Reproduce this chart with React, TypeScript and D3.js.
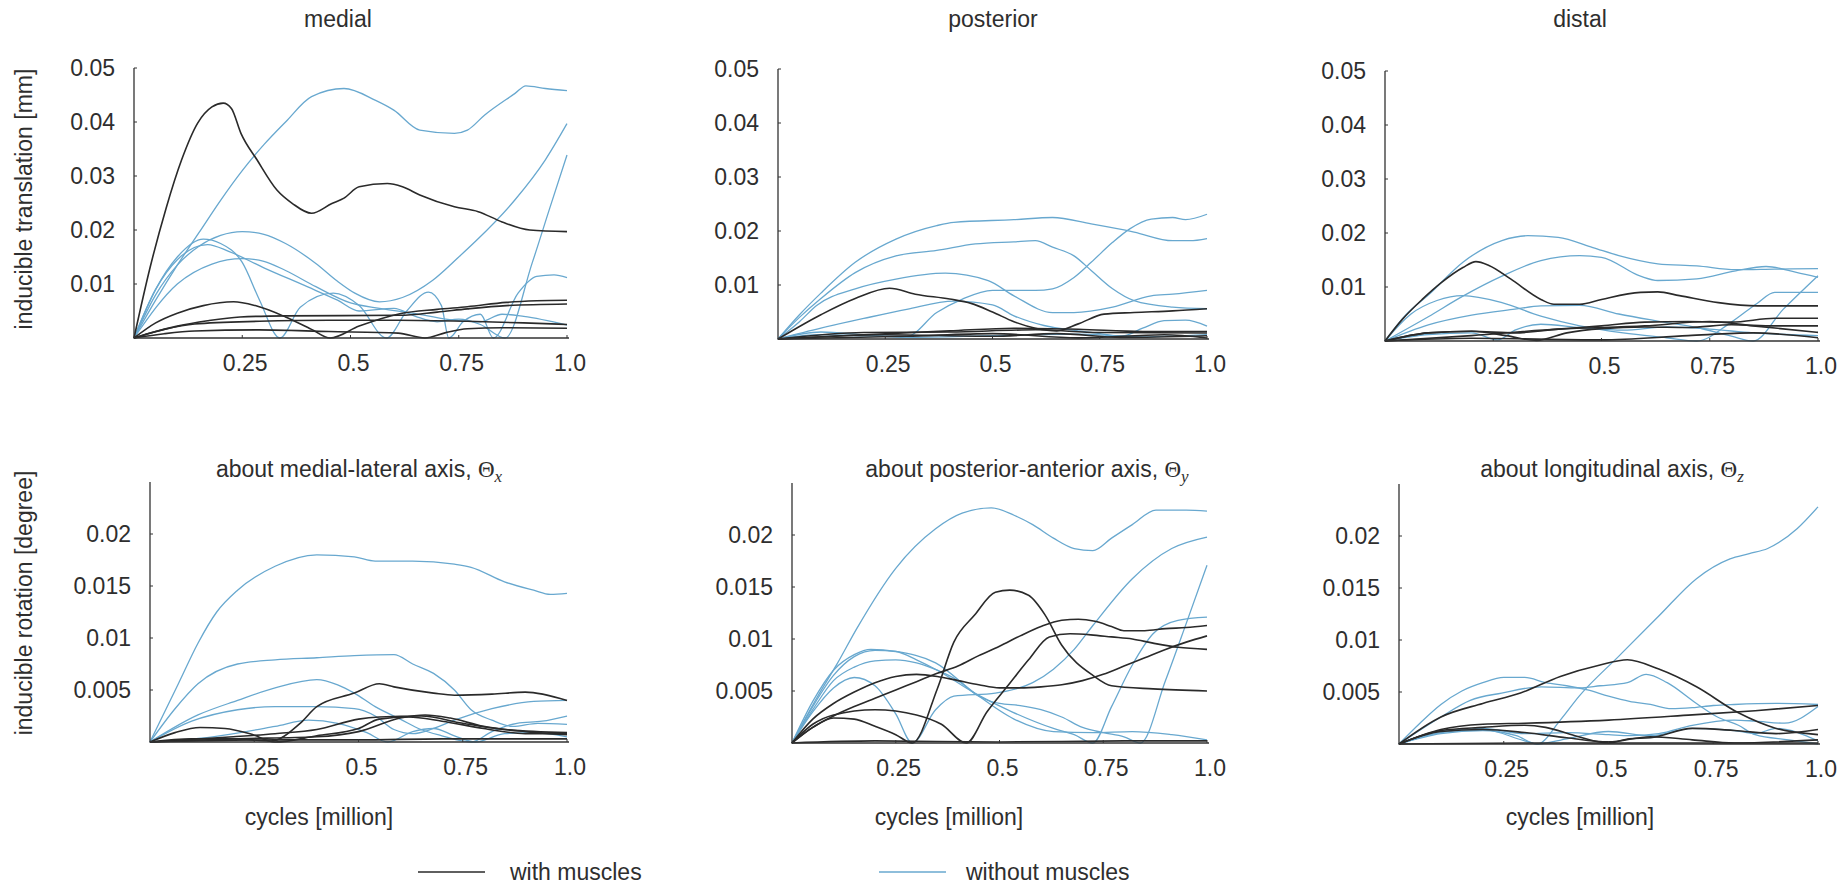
import * as d3 from "d3";

type Pt = [number, number];

// x: million cycles, y: thousandths (mm for the top row, degree for the bottom row)
const medialWith: Pt[][] = [
  [[0,0],[0.037,13],[0.074,24],[0.11,33],[0.147,39.8],[0.18,42.8],[0.206,43.5],[0.225,42.5],[0.247,37.9],[0.284,33],[0.33,27.4],[0.366,24.9],[0.41,23.1],[0.457,24.9],[0.485,25.9],[0.52,28],[0.585,28.6],[0.62,28],[0.66,26.5],[0.74,24.3],[0.795,23.4],[0.85,21.5],[0.914,20],[1.0,19.7]],
  [[0,0],[0.05,2.8],[0.1,4.6],[0.16,6],[0.23,6.7],[0.28,6],[0.35,3.9],[0.41,1.6],[0.453,0],[0.52,2.2],[0.614,4.5],[0.7,5.3],[0.77,5.8],[0.86,6.6],[0.93,6.9],[1.0,7.0]],
  [[0,0],[0.05,1.2],[0.1,2.2],[0.17,3.2],[0.245,3.9],[0.35,4.1],[0.614,4.2],[0.7,4.8],[0.77,5.4],[0.86,6],[1.0,6.3]],
  [[0,0],[0.07,1.6],[0.14,2.6],[0.29,3.1],[0.45,3.3],[0.61,3.3],[0.77,3.1],[0.9,2.8],[1.0,2.5]],
  [[0,0],[0.07,0.8],[0.14,1.3],[0.29,1.5],[0.45,1.2],[0.61,0.9],[0.672,0],[0.72,1],[0.77,1.7],[0.85,1.9],[1.0,1.8]],
];
const medialWithout: Pt[][] = [
  [[0,0],[0.05,7],[0.1,13.5],[0.15,19.5],[0.2,25.5],[0.25,31],[0.3,35.8],[0.35,40],[0.41,44.7],[0.485,46.2],[0.558,44],[0.6,42.2],[0.66,38.5],[0.74,37.9],[0.77,38.5],[0.81,41.3],[0.88,45.3],[0.905,46.7],[0.95,46.2],[1.0,45.8]],
  [[0,0],[0.05,8],[0.1,13.5],[0.15,17],[0.2,19],[0.25,19.7],[0.3,19.2],[0.35,17.5],[0.42,13.8],[0.47,10.5],[0.51,8.3],[0.567,6.7],[0.62,7.5],[0.69,10.7],[0.75,15],[0.79,18],[0.88,25.6],[0.95,33],[1.0,39.7]],
  [[0,0],[0.05,9],[0.1,15],[0.16,18.3],[0.2,17.5],[0.25,14],[0.29,7],[0.337,0],[0.384,5.7],[0.46,8.3],[0.52,6],[0.583,0],[0.63,5],[0.68,8.5],[0.71,6],[0.727,0],[0.76,3],[0.8,4.4],[0.83,0],[0.887,8.3],[0.93,11.4],[0.97,11.7],[1.0,11.2]],
  [[0,0],[0.05,9],[0.1,14.5],[0.17,17.3],[0.22,16],[0.3,13],[0.4,9.5],[0.47,7],[0.52,5],[0.6,5.5],[0.65,4],[0.7,3],[0.75,3.5],[0.8,2.5],[0.857,0],[0.92,14],[0.96,24],[1.0,33.9]],
  [[0,0],[0.1,10],[0.18,13.7],[0.25,14.7],[0.3,14.2],[0.35,12.5],[0.42,9.5],[0.5,6.5],[0.567,5.5],[0.65,4.5],[0.72,3.5],[0.8,3],[0.85,4.4],[0.9,4],[1.0,2.4]],
];

const posteriorWith: Pt[][] = [
  [[0,0],[0.1,4.5],[0.18,7.5],[0.26,9.4],[0.32,8.3],[0.4,7.4],[0.45,6.6],[0.5,5],[0.55,3.2],[0.6,2],[0.65,1.5],[0.7,2.8],[0.76,4.6],[0.83,4.9],[0.92,5.2],[1.0,5.6]],
  [[0,0],[0.2,0.8],[0.4,1.5],[0.55,2],[0.7,1.8],[0.85,1.4],[1.0,1.4]],
  [[0,0],[0.25,0.8],[0.5,0.5],[0.65,1],[0.8,0.3],[1.0,0.6]],
  [[0,0],[0.3,0.5],[0.5,1],[0.7,0.2],[0.9,0.8],[1.0,0.2]],
  [[0,0],[0.2,1.2],[0.4,1.3],[0.6,1.7],[0.75,1.2],[1.0,1.1]],
];
const posteriorWithout: Pt[][] = [
  [[0,0],[0.05,4.5],[0.1,8.5],[0.18,14.2],[0.275,18.5],[0.37,21],[0.41,21.6],[0.55,22.1],[0.64,22.5],[0.73,21.3],[0.83,19.8],[0.92,18.2],[0.96,18.2],[1.0,18.6]],
  [[0,0],[0.05,4],[0.1,7.5],[0.18,12.3],[0.275,15.4],[0.37,16.4],[0.46,17.6],[0.55,18],[0.6,18.2],[0.64,17],[0.69,15.4],[0.73,12.7],[0.78,9.3],[0.83,7.1],[0.92,5.9],[1.0,5.6]],
  [[0,0],[0.05,3.2],[0.09,6.2],[0.18,9.3],[0.275,11.1],[0.39,12.2],[0.49,10.8],[0.55,8],[0.64,4.9],[0.69,4.9],[0.78,5.9],[0.87,8],[0.92,8.3],[1.0,9]],
  [[0,0],[0.1,0.8],[0.2,0.6],[0.3,0.5],[0.37,4.9],[0.43,7.4],[0.5,9],[0.6,9],[0.64,9.3],[0.69,11.4],[0.73,14.2],[0.78,17.9],[0.82,20.4],[0.87,22.2],[0.92,22.5],[0.95,22.1],[1.0,23.1]],
  [[0,0],[0.1,2],[0.2,3.8],[0.3,5.5],[0.41,7],[0.5,6.3],[0.55,4.3],[0.62,2.5],[0.7,1.5],[0.75,1],[0.8,0.5],[0.85,2],[0.9,3.4],[0.95,3.5],[1.0,2.4]],
  [[0,0],[0.1,1.3],[0.2,0.8],[0.3,0.3],[0.5,0.6],[0.7,0.9],[0.85,0.4],[1.0,0.8]],
];

const distalWith: Pt[][] = [
  [[0,0],[0.04,4],[0.086,7.7],[0.13,10.8],[0.18,13.6],[0.21,14.7],[0.24,14],[0.29,11.5],[0.36,7.7],[0.39,6.8],[0.45,6.8],[0.5,7.7],[0.59,9],[0.63,9.1],[0.68,8.4],[0.77,7.1],[0.86,6.5],[1.0,6.5]],
  [[0,0],[0.1,1.5],[0.2,1.8],[0.3,1.5],[0.4,2.2],[0.5,2.8],[0.6,3.5],[0.7,3.6],[0.8,3.5],[0.9,4.2],[1.0,4.2]],
  [[0,0],[0.1,1.5],[0.2,1.8],[0.28,1],[0.35,0.1],[0.42,1.5],[0.5,2.3],[0.6,2.6],[0.7,2.5],[0.8,3],[0.9,2.8],[1.0,2.8]],
  [[0,0],[0.2,1],[0.4,2.2],[0.6,2.8],[0.75,3.6],[0.85,2.8],[1.0,1.6]],
  [[0,0],[0.2,0.5],[0.5,0.2],[0.7,1],[0.85,1.5],[1.0,0.6]],
];
const distalWithout: Pt[][] = [
  [[0,0],[0.05,5],[0.1,8.5],[0.18,14.6],[0.27,18.6],[0.33,19.5],[0.4,19.2],[0.48,17.3],[0.54,15.8],[0.63,14.3],[0.72,13.9],[0.81,13.2],[0.9,13.3],[1.0,13.4]],
  [[0,0],[0.1,4.5],[0.18,8.3],[0.27,12],[0.36,14.9],[0.45,15.8],[0.5,15.5],[0.59,12],[0.63,11.2],[0.72,11.5],[0.81,13],[0.88,13.8],[0.95,12.7],[1.0,11.8]],
  [[0,0],[0.06,5],[0.12,7.5],[0.18,8.4],[0.27,7.1],[0.36,4.6],[0.45,2.8],[0.55,1.5],[0.65,0.6],[0.72,0],[0.8,3.5],[0.86,7],[0.9,9],[1.0,9]],
  [[0,0],[0.1,3],[0.2,4.8],[0.3,5.9],[0.36,6.5],[0.45,6.6],[0.54,5],[0.63,3.7],[0.72,2.5],[0.8,0.9],[0.85,0],[0.92,5.9],[1.0,12.1]],
  [[0,0],[0.1,1.2],[0.2,1.5],[0.26,0.2],[0.3,2],[0.36,3.1],[0.45,2.5],[0.55,2],[0.65,2.6],[0.75,2.2],[0.85,1.5],[1.0,1]],
];

const thetaXWith: Pt[][] = [
  [[0,0],[0.1,0.3],[0.2,0.3],[0.29,0.1],[0.36,1.8],[0.4,3.4],[0.49,4.7],[0.55,5.6],[0.585,5.3],[0.68,4.7],[0.73,4.5],[0.82,4.6],[0.9,4.8],[1.0,4]],
  [[0,0],[0.06,0.9],[0.12,1.4],[0.18,1.3],[0.24,0.8],[0.3,0],[0.4,0.6],[0.5,1.3],[0.55,2.2],[0.62,2.4],[0.7,2],[0.8,1.3],[0.9,0.8],[1.0,0.8]],
  [[0,0],[0.2,0.5],[0.3,0.8],[0.4,1.2],[0.5,2.2],[0.55,2.4],[0.65,2.5],[0.75,1.8],[0.85,1.2],[1.0,0.9]],
  [[0,0],[0.2,0.3],[0.4,0.5],[0.5,1],[0.6,2.3],[0.66,2.6],[0.72,2.3],[0.8,1.5],[0.9,1],[1.0,0.7]],
  [[0,0],[0.3,0.2],[0.5,0.2],[0.7,0.3],[1.0,0.3]],
];
const thetaXWithout: Pt[][] = [
  [[0,0],[0.068,5.6],[0.115,9.5],[0.16,12.5],[0.21,14.6],[0.3,16.9],[0.4,18],[0.49,17.8],[0.54,17.4],[0.63,17.4],[0.73,17.1],[0.77,16.8],[0.85,15.4],[0.92,14.6],[0.96,14.2],[1.0,14.3]],
  [[0,0],[0.06,3.2],[0.115,5.6],[0.21,7.5],[0.3,7.9],[0.4,8.1],[0.49,8.3],[0.585,8.4],[0.63,7.5],[0.68,6.6],[0.73,5],[0.77,3.1],[0.82,2.1],[0.87,1.5],[0.93,1.8],[1.0,1.7]],
  [[0,0],[0.115,2.6],[0.21,4],[0.3,5.2],[0.4,6],[0.45,5.5],[0.49,4.7],[0.54,3.4],[0.6,2.2],[0.65,1.2],[0.7,0.6],[0.77,0],[0.82,1],[0.88,1.8],[0.94,2],[1.0,2.5]],
  [[0,0],[0.1,2],[0.21,3.1],[0.3,3.4],[0.4,3.4],[0.49,3.2],[0.54,2.5],[0.585,1.2],[0.63,0.8],[0.68,1.3],[0.73,2.1],[0.82,3.2],[0.92,3.9],[1.0,4]],
  [[0,0],[0.15,0.5],[0.3,1.5],[0.38,2.1],[0.45,1.8],[0.52,0.9],[0.57,0],[0.63,1],[0.68,1.3],[0.73,0.6],[0.78,0],[0.85,0.8],[0.92,0.9],[1.0,0.5]],
];

const thetaYWith: Pt[][] = [
  [[0,0],[0.05,1.5],[0.1,2.4],[0.15,2.3],[0.2,1.6],[0.25,0.8],[0.29,0],[0.35,5.2],[0.39,9.7],[0.44,12.3],[0.49,14.5],[0.525,14.7],[0.57,14.2],[0.61,12.3],[0.65,9.4],[0.725,6.5],[0.77,5.5],[0.87,5.2],[1.0,5.0]],
  [[0,0],[0.05,1.8],[0.1,2.7],[0.2,3.2],[0.3,2.7],[0.36,1.8],[0.42,0],[0.47,3],[0.52,5.5],[0.57,8],[0.62,10.2],[0.67,10.5],[0.72,10.4],[0.77,10.2],[0.82,10],[0.87,9.6],[0.93,9.2],[1.0,9.0]],
  [[0,0],[0.05,2.3],[0.1,3.8],[0.15,4.9],[0.2,5.8],[0.25,6.4],[0.3,6.6],[0.35,6.4],[0.4,6],[0.45,5.6],[0.5,5.3],[0.55,5.3],[0.6,5.4],[0.65,5.6],[0.7,6],[0.75,6.6],[0.8,7.4],[0.85,8.2],[0.9,9],[0.95,9.7],[1.0,10.3]],
  [[0,0],[0.05,1.5],[0.1,2.6],[0.15,3.5],[0.2,4.3],[0.25,5.1],[0.3,5.9],[0.35,6.7],[0.4,7.4],[0.45,8.4],[0.5,9.3],[0.55,10.3],[0.6,11.2],[0.65,11.8],[0.69,11.9],[0.73,11.7],[0.77,11.2],[0.8,10.8],[0.85,10.8],[0.9,11],[0.95,11.1],[1.0,11.3]],
  [[0,0],[0.2,0.2],[0.5,0.1],[0.8,0.2],[1.0,0.2]],
];
const thetaYWithout: Pt[][] = [
  [[0,0],[0.062,4.5],[0.11,7.7],[0.156,11],[0.25,16.8],[0.346,20.6],[0.41,22.1],[0.48,22.6],[0.535,21.9],[0.58,21],[0.63,19.7],[0.68,18.7],[0.725,18.5],[0.77,19.7],[0.82,21],[0.877,22.4],[0.95,22.4],[1.0,22.3]],
  [[0,0],[0.05,3],[0.1,5.3],[0.15,6.3],[0.2,5.5],[0.25,2.8],[0.29,0],[0.346,3.2],[0.39,4.5],[0.49,4.8],[0.58,5.8],[0.63,7.1],[0.68,9],[0.725,11.3],[0.82,15.8],[0.915,18.7],[1.0,19.8]],
  [[0,0],[0.05,4],[0.1,7],[0.15,8.5],[0.19,9],[0.25,8.8],[0.346,7.7],[0.44,4.8],[0.535,2.3],[0.63,1.1],[0.725,1],[0.82,1.1],[0.915,0.8],[1.0,0.3]],
  [[0,0],[0.05,3.5],[0.1,6.5],[0.15,8.3],[0.2,8.9],[0.25,8.8],[0.3,8],[0.35,7],[0.44,4.8],[0.53,3],[0.63,1.4],[0.68,0.8],[0.725,0],[0.77,3.5],[0.82,7.5],[0.87,10.5],[0.93,11.8],[1.0,12.1]],
  [[0,0],[0.05,3.2],[0.1,6],[0.15,7.3],[0.2,7.9],[0.25,8],[0.3,7.7],[0.35,7],[0.4,6],[0.45,4.5],[0.5,3.8],[0.55,3.6],[0.6,3.2],[0.65,2.5],[0.7,1.5],[0.75,1],[0.8,0.6],[0.84,0],[0.9,6],[0.95,11.5],[1.0,17.1]],
];

const thetaZWith: Pt[][] = [
  [[0,0],[0.1,2.6],[0.2,3.9],[0.29,4.9],[0.385,6.5],[0.48,7.6],[0.545,8.1],[0.62,7.2],[0.71,5.5],[0.81,3],[0.9,1.5],[1.0,0.9]],
  [[0,0],[0.1,1.4],[0.2,1.9],[0.3,2],[0.5,2.3],[0.7,2.8],[0.85,3.2],[1.0,3.7]],
  [[0,0],[0.1,1.3],[0.2,1.6],[0.3,1.8],[0.35,1.6],[0.42,0.8],[0.5,0.1],[0.55,0.5],[0.6,0.6],[0.7,1.5],[0.8,1.3],[0.9,1],[1.0,1.4]],
  [[0,0],[0.1,1.2],[0.2,1.4],[0.3,1.1],[0.4,0.6],[0.5,0.2],[0.6,0.7],[0.7,0.4],[0.8,0.1],[1.0,0.4]],
  [[0,0],[0.3,0.1],[1.0,0.1]],
];
const thetaZWithout: Pt[][] = [
  [[0,0],[0.1,1],[0.2,1.3],[0.28,0.8],[0.33,0],[0.385,2.3],[0.43,4.6],[0.526,8.5],[0.62,12.3],[0.71,15.9],[0.79,17.8],[0.836,18.3],[0.88,18.8],[0.95,20.7],[1.0,22.8]],
  [[0,0],[0.05,2],[0.1,3.8],[0.15,5.1],[0.2,5.9],[0.25,6.4],[0.3,6.4],[0.35,5.9],[0.4,5.6],[0.45,5.2],[0.5,4.6],[0.55,4.1],[0.6,3.8],[0.65,3.4],[0.7,3.5],[0.75,3.7],[0.8,3.8],[0.9,3.9],[1.0,3.8]],
  [[0,0],[0.1,2.6],[0.17,4.2],[0.245,4.9],[0.34,5.5],[0.43,5.4],[0.48,5.6],[0.545,5.9],[0.59,6.7],[0.64,5.9],[0.71,3.9],[0.76,2.6],[0.81,1.8],[0.85,0.9],[0.93,0.4],[1.0,0]],
  [[0,0],[0.1,1.2],[0.2,1.5],[0.3,1],[0.4,1.1],[0.5,0.9],[0.55,0.8],[0.62,1],[0.7,1.8],[0.8,2.3],[0.85,2.2],[0.92,2],[1.0,3.6]],
  [[0,0],[0.1,1.1],[0.2,1.4],[0.3,0.3],[0.33,0],[0.4,0.5],[0.5,1.2],[0.6,0.8],[0.7,1.5],[0.8,1.3],[0.85,1],[0.9,1.5],[1.0,0.3]],
];

const xTicks = [0.25, 0.5, 0.75, 1.0];
const xTickLabels = ["0.25", "0.5", "0.75", "1.0"];
const transTicks = [0.01, 0.02, 0.03, 0.04, 0.05];
const transTickLabels = ["0.01", "0.02", "0.03", "0.04", "0.05"];
const rotTicks = [0.005, 0.01, 0.015, 0.02];
const rotTickLabels = ["0.005", "0.01", "0.015", "0.02"];

const WITH_COLOR = "#2a2a2a";
const WITHOUT_COLOR = "#68a8cf";
const TEXT = "#2e2e2e";
const FONT = "'Liberation Sans', Arial, sans-serif";
const MATH = "'Liberation Serif', 'DejaVu Serif', serif";

interface PanelDef {
  withM: Pt[][];
  withoutM: Pt[][];
  x0: number; x1: number; y0: number; yTop: number; yMax: number;
  ticks: number[]; tickLabels: string[];
}

const panels: PanelDef[] = [
  { withM: medialWith, withoutM: medialWithout, x0: 134, x1: 567, y0: 338, yTop: 68, yMax: 0.05, ticks: transTicks, tickLabels: transTickLabels },
  { withM: posteriorWith, withoutM: posteriorWithout, x0: 778, x1: 1207, y0: 339, yTop: 69, yMax: 0.05, ticks: transTicks, tickLabels: transTickLabels },
  { withM: distalWith, withoutM: distalWithout, x0: 1385, x1: 1818, y0: 341, yTop: 71, yMax: 0.05, ticks: transTicks, tickLabels: transTickLabels },
  { withM: thetaXWith, withoutM: thetaXWithout, x0: 150, x1: 567, y0: 742, yTop: 482, yMax: 0.025, ticks: rotTicks, tickLabels: rotTickLabels },
  { withM: thetaYWith, withoutM: thetaYWithout, x0: 792, x1: 1207, y0: 743, yTop: 483, yMax: 0.025, ticks: rotTicks, tickLabels: rotTickLabels },
  { withM: thetaZWith, withoutM: thetaZWithout, x0: 1399, x1: 1818, y0: 744, yTop: 484, yMax: 0.025, ticks: rotTicks, tickLabels: rotTickLabels },
];

function Panel({ p }: { p: PanelDef }) {
  const x = d3.scaleLinear().domain([0, 1]).range([p.x0, p.x1]);
  const y = d3.scaleLinear().domain([0, p.yMax]).range([p.y0, p.yTop]);
  const line = d3.line<Pt>()
    .x(d => x(d[0]))
    .y(d => y(d[1] / 1000))
    .curve(d3.curveMonotoneX);
  return (
    <g>
      {p.withoutM.map((s, i) => (
        <path key={"b" + i} d={line(s) ?? ""} fill="none" stroke={WITHOUT_COLOR} strokeWidth={1.3} />
      ))}
      {p.withM.map((s, i) => (
        <path key={"k" + i} d={line(s) ?? ""} fill="none" stroke={WITH_COLOR} strokeWidth={1.6} />
      ))}
      <path d={`M${p.x0},${p.yTop}V${p.y0}H${p.x1 + 2}`} fill="none" stroke="#333" strokeWidth={1.3} />
      {p.ticks.map((t, i) => (
        <g key={"y" + i}>
          <line x1={p.x0} x2={p.x0 + 3} y1={y(t)} y2={y(t)} stroke="#333" strokeWidth={1} />
          <text x={p.x0 - 19} y={y(t)} dy="0.36em" textAnchor="end" fontSize={23} fill={TEXT}>{p.tickLabels[i]}</text>
        </g>
      ))}
      {xTicks.map((t, i) => (
        <g key={"x" + i}>
          <line x1={x(t)} x2={x(t)} y1={p.y0} y2={p.y0 - 3} stroke="#333" strokeWidth={1} />
          <text x={x(t) + 3} y={p.y0 + 33} textAnchor="middle" fontSize={23} fill={TEXT}>{xTickLabels[i]}</text>
        </g>
      ))}
    </g>
  );
}

function Theta({ sub }: { sub: string }) {
  return (
    <>
      <tspan fontFamily={MATH}>Θ</tspan>
      <tspan fontFamily={MATH} fontStyle="italic" fontSize={17} dy={5}>{sub}</tspan>
    </>
  );
}

export default function App() {
  return (
    <svg width={1845} height={887} style={{ position: "absolute", left: 0, top: 0, display: "block", background: "#fff" }}
      fontFamily={FONT}>
      {panels.map((p, i) => <Panel key={i} p={p} />)}

      <g fontSize={23} fill={TEXT} textAnchor="middle">
        <text x={338} y={27}>medial</text>
        <text x={993} y={27}>posterior</text>
        <text x={1580} y={27}>distal</text>

        <text x={359} y={477}>about medial-lateral axis, <Theta sub="x" /></text>
        <text x={1027} y={477}>about posterior-anterior axis, <Theta sub="y" /></text>
        <text x={1612} y={477}>about longitudinal axis, <Theta sub="z" /></text>

        <text x={319} y={825}>cycles [million]</text>
        <text x={949} y={825}>cycles [million]</text>
        <text x={1580} y={825}>cycles [million]</text>

        <text transform="translate(32,199) rotate(-90)">inducible translation [mm]</text>
        <text transform="translate(32,603) rotate(-90)">inducible rotation [degree]</text>
      </g>

      <g fontSize={23} fill={TEXT}>
        <line x1={418} x2={485} y1={872} y2={872} stroke={WITH_COLOR} strokeWidth={1.6} />
        <text x={510} y={880}>with muscles</text>
        <line x1={879} x2={946} y1={872} y2={872} stroke={WITHOUT_COLOR} strokeWidth={1.3} />
        <text x={966} y={880}>without muscles</text>
      </g>
    </svg>
  );
}
